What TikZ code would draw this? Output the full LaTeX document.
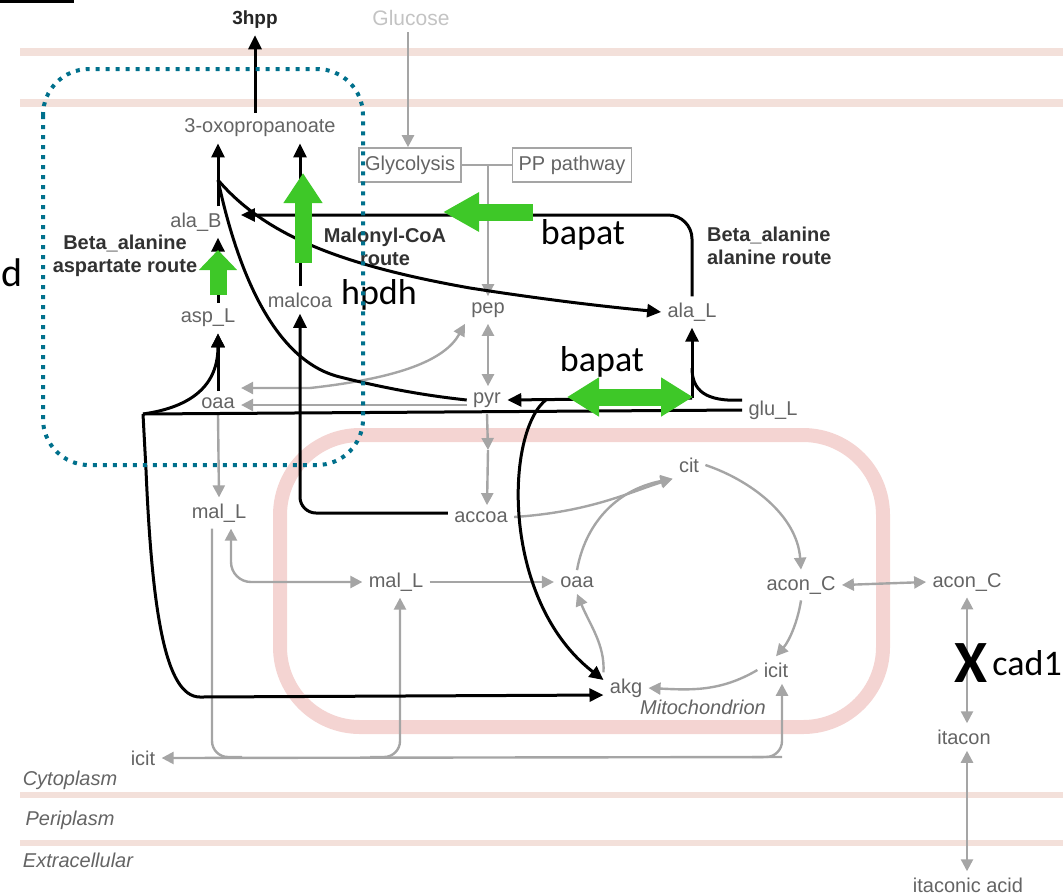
\documentclass[tikz,border=0pt]{standalone}
\usepackage{fontspec}
\setmainfont{Liberation Sans}
\newfontfamily\enzfont{Carlito}
\usetikzlibrary{arrows.meta,positioning}

\definecolor{metgray}{RGB}{100,100,100}
\definecolor{routegray}{RGB}{50,50,50}
\definecolor{linegray}{RGB}{165,165,165}
\definecolor{glcgray}{RGB}{195,195,195}
\definecolor{membpink}{RGB}{243,224,218}
\definecolor{mitopink}{RGB}{244,212,210}
\definecolor{boxteal}{RGB}{0,112,140}
\definecolor{fatgreen}{RGB}{62,200,40}

\tikzset{
  met/.style={font=\fontsize{10}{12}\selectfont, text=metgray, inner sep=3pt},
  route/.style={font=\fontsize{10}{11.5}\selectfont\bfseries, text=routegray, align=center},
  enz/.style={font=\enzfont\fontsize{18}{20}\selectfont, inner sep=0pt},
  comp/.style={font=\fontsize{10}{12}\selectfont\itshape, text=metgray},
  pathbox/.style={met, draw=linegray, line width=0.8pt, minimum height=17pt, inner sep=3pt},
  gline/.style={draw=linegray, line width=1.2pt},
  gflux/.style={gline, -{Triangle[length=6pt,width=6pt]}},
  grev/.style={gline, {Triangle[length=6pt,width=6pt]}-{Triangle[length=6pt,width=6pt]}},
  bline/.style={draw=black, line width=1.5pt},
  bflux/.style={bline, -{Triangle[length=7pt,width=6.5pt]}},
  memb/.style={draw=membpink, line width=4pt},
  fatarrow/.style={draw=fatgreen, line width=8.5pt, -{Triangle[length=#1,width=18.5pt]}},
  fatarrow/.default=15pt,
  fatboth/.style={draw=fatgreen, line width=8.5pt,
    {Triangle[length=16pt,width=18.5pt]}-{Triangle[length=16pt,width=18.5pt]}}
}

\begin{document}
\begin{tikzpicture}[x=0.5pt,y=-0.5pt]
  \useasboundingbox (0,0) rectangle (1063,895);

  % membranes and mitochondrion
  \draw[line width=1.5pt] (0,1) -- (74,1);
  \draw[memb] (20,52) -- (1063,52);
  \draw[memb] (20,103) -- (1063,103);
  \draw[memb, line width=3pt] (20,795) -- (1063,795);
  \draw[memb, line width=3pt] (20,843) -- (1063,843);
  \draw[draw=mitopink, line width=7pt, rounded corners=40pt] (280,435) rectangle (883,727);

  % metabolites
  \node[met, font=\fontsize{9.5}{11}\selectfont\bfseries, text=black!85] (hpp) at (255,20) {3hpp};
  \node[met, font=\fontsize{10.5}{12}\selectfont, text=glcgray] (glc) at (411,18) {Glucose};
  \node[met] (oxo) at (260,128) {3-oxopropanoate};
  \node[pathbox] (glyc) at (410,165) {Glycolysis};
  \node[pathbox] (ppp) at (572,165) {PP pathway};
  \node[met] (alaB) at (196,222) {ala\_B};
  \node[met] (aspL) at (208,318) {asp\_L};
  \node[met] (malcoa) at (300,300) {malcoa};
  \node[met] (pep) at (488,310) {pep};
  \node[met] (alaL) at (692,312) {ala\_L};
  \node[met] (oaa) at (218,403) {oaa};
  \node[met] (pyr) at (487,400) {pyr};
  \node[met] (gluL) at (773,410) {glu\_L};
  \node[met] (malc) at (219,513) {mal\_L};
  \node[met] (accoa) at (481,517) {accoa};
  \node[met] (cit) at (689,465) {cit};
  \node[met] (malm) at (396,582) {mal\_L};
  \node[met] (oaam) at (577,582) {oaa};
  \node[met] (aconm) at (801,585) {acon\_C};
  \node[met] (aconc) at (967,582) {acon\_C};
  \node[met] (icitm) at (776,670) {icit};
  \node[met] (akg) at (626,688) {akg};
  \node[met] (icitc) at (143,758) {icit};
  \node[met] (itacon) at (964,737) {itacon};
  \node[met] (itac) at (968,885) {itaconic acid};
  \node[comp] (mito) at (703,707) {Mitochondrion};
  \node[comp] (cyto) at (70,780) {Cytoplasm};
  \node[comp] (peri) at (70,820) {Periplasm};
  \node[comp] (extra) at (78,860) {Extracellular};

  % route labels
  \node[route] (rasp) at (125,256) {Beta\_alanine\\aspartate route};
  \node[route] (rmal) at (385,247) {Malonyl-CoA\\route};
  \node[route, align=left, anchor=west] (rala) at (700,246) {Beta\_alanine\\alanine route};

  % junctions
  \coordinate (cB) at (218,0);
  \coordinate (cJ) at (218,180);
  \coordinate (cTL) at (143,414);
  \coordinate (cR) at (692,398);
  \coordinate (cP) at (547,399);
  \coordinate (pmid) at (488,450);
  \coordinate (jl) at (212,757);
  \coordinate (jm) at (400,757);
  \coordinate (jr) at (782,757);

  % gray fluxes
  \draw[gflux] (glc.south -| 408,0) -- (408,0 |- glyc.north);
  \draw[gline] (glyc.east) -- (ppp.west);
  \draw[gflux] (glyc.east -| pep.north) -- (pep.north);
  \draw[grev] (pep.south) -- (pep.south |- pyr.north);
  \draw[gflux] (pyr.south) -- (pmid);
  \draw[gflux] (pmid) -- (pyr.south |- accoa.north);
  \draw[gflux] ([yshift=-2.5pt]pyr.west) -- ([yshift=-1pt]oaa.east);
  \draw[grev] ([yshift=7.5pt]oaa.east) -- (310,388) .. controls (400,378) and (445,360) .. (pep.south west);
  \draw[gflux] (oaa.south) -- (malc.north);
  \draw[grev, rounded corners=10pt] ([xshift=6pt]malc.south) |- (malm.west);
  \draw[gflux] (malm.east) -- (oaam.west);
  \draw[gflux] (accoa.east) .. controls (590,512) and (630,492) .. (cit.south west);
  \draw[gflux] (oaam.north) .. controls (585,525) and (615,490) .. (cit.south west);
  \draw[gflux] (cit.east) .. controls (750,480) and (797,515) .. (aconm.north);
  \draw[gflux] (aconm.south) .. controls (798,620) and (790,640) .. (icitm.north);
  \draw[gflux] (icitm.west) .. controls (720,692) and (690,690) .. (akg.east);
  \draw[gflux] (akg.north west) .. controls (605,645) and (590,625) .. (oaam.south);
  \draw[grev] (aconm.east) -- (aconc.west);
  \draw[grev] (aconc.south -| 967,0) -- (967,0 |- itacon.north);
  \draw[grev] (itacon.south -| 967,0) -- (967,0 |- itac.north);
  \draw[gflux] (jr) -- (icitc.east);
  \draw[gline, rounded corners=8pt] (jl |- malc.south) -- (jl) -- ([xshift=15pt]jl);
  \draw[gflux, rounded corners=8pt] ([xshift=-15pt]jm) -- (jm) -- (jm |- malm.south);
  \draw[gflux, rounded corners=8pt] ([xshift=-15pt]jr) -- (jr) -- (jr |- icitm.south);

  % black fluxes
  \draw[bflux] (hpp.south |- oxo.north) -- (hpp.south);
  \draw[bflux] (cB |- alaB.north) -- (cB |- oxo.south);
  \draw[bflux] (cB |- aspL.north) -- (cB |- alaB.south);
  \draw[bflux] (cB |- oaa.north) -- (cB |- aspL.south);
  \draw[bflux] (malcoa.north) -- (malcoa.north |- oxo.south);
  \draw[bflux, rounded corners=8pt] ([yshift=2pt]accoa.west) -| (malcoa.south);
  \draw[bline] (cJ) .. controls (235,260) and (270,360) .. (340,377) .. controls (400,392) and (440,397) .. (pyr.west);
  \draw[bflux] (cJ) .. controls (265,235) and (340,265) .. (470,288) .. controls (560,302) and (620,308) .. (alaL.west);
  \draw[bflux, rounded corners=12pt] (alaL.north) |- ([xshift=6.5pt,yshift=3.5pt]alaB.east);
  \draw[bline] (gluL.west) -- (cTL);
  \draw[bflux] (cTL) .. controls (185,408) and (218,390) .. (cB |- aspL.south);
  \draw[bflux] (cTL) -- (146,470) .. controls (152,610) and (165,697) .. (200,697) -- ([yshift=-3.5pt]akg.west);
  \draw[bline] ([yshift=5pt]gluL.west) .. controls (705,402) and (692,390) .. (692,368);
  \draw[bflux] (cR) -- (alaL.south);
  \draw[bflux] (cR) -- (pyr.east);
  \draw[bflux] (cP) .. controls (505,430) and (500,600) .. ([yshift=4pt]akg.west);

  % enzyme overlays
  \draw[fatarrow=10pt] (218,295) -- (218,250);
  \draw[fatarrow] (303,263) -- (303,173);
  \draw[fatarrow=18pt] (533,212) -- (443,212);
  \draw[fatboth] (567,397) -- (693,397);

  \node[enz] (bapat1) at (583,235) {bapat};
  \node[enz] (hpdh) at (379,295) {hpdh};
  \node[enz] (bapat2) at (602,362) {bapat};
  \node[enz, font=\enzfont\bfseries\fontsize{30}{32}\selectfont] (ko) at (971,663) {X};
  \node[enz, anchor=west] (cad) at (992,663) {cad1};
  \node[enz, anchor=west, font=\enzfont\fontsize{20}{22}\selectfont] (dcut) at (1,273) {d};

  % engineered module
  \draw[draw=boxteal, line width=2pt, dash pattern=on 2pt off 3pt, rounded corners=23pt] (43,69) rectangle (363,465);
\end{tikzpicture}
\end{document}
